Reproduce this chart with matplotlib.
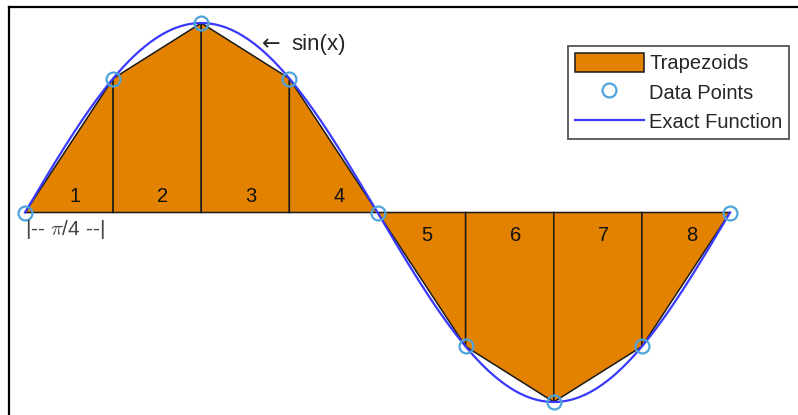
import numpy as np
import matplotlib
matplotlib.use("Agg")
import matplotlib.pyplot as plt
from matplotlib.patches import Polygon
from matplotlib.lines import Line2D

plt.rcParams['font.family'] = ['Liberation Sans', 'DejaVu Sans']

# Sample nodes at multiples of pi/4 and sin values there
x_nodes = [0, np.pi/4, np.pi/2, 3*np.pi/4, np.pi, 5*np.pi/4, 3*np.pi/2, 7*np.pi/4, 2*np.pi]
y_nodes = [0.0, 0.7071, 1.0, 0.7071, 0.0, -0.7071, -1.0, -0.7071, 0.0]
trap_labels = ['1', '2', '3', '4', '5', '6', '7', '8']

W, H, DPI = 798, 415, 100
fig = plt.figure(figsize=(W / DPI, H / DPI), dpi=DPI)
ax = fig.add_axes([0, 0, 1, 1])
ax.set_xlim(-0.2228, 6.889)
ax.set_ylim(-1.0686, 1.1214)
ax.axis('off')

fill_color = '#E38100'
text_color = '#262626'

# Trapezoids
patches = []
for i in range(len(x_nodes) - 1):
    xa, xb = x_nodes[i], x_nodes[i + 1]
    ya, yb = y_nodes[i], y_nodes[i + 1]
    poly = Polygon([(xa, 0), (xa, ya), (xb, yb), (xb, 0)], closed=True,
                   facecolor=fill_color, edgecolor='#1a1a1a', linewidth=1.1, zorder=2)
    ax.add_patch(poly)
    patches.append(poly)

# Exact function
xf = np.linspace(0, 2 * np.pi, 400)
line, = ax.plot(xf, np.sin(xf), color='#3a3aff', linewidth=1.6, zorder=3)

# Data points
pts, = ax.plot(x_nodes, y_nodes, linestyle='none', marker='o', markersize=10,
               markerfacecolor='none', markeredgecolor='#4da3da', markeredgewidth=1.6,
               zorder=4, clip_on=False)

# Trapezoid numbers
for i, lab in enumerate(trap_labels):
    xm = 0.5 * (x_nodes[i] + x_nodes[i + 1])
    ym = 0.085 if i < 4 else -0.12
    ax.text(xm, ym, lab, ha='left', va='center', fontsize=14.5, color='#111111', zorder=5)

# Curve annotation
ax.text(2.11, 0.888, '\u2190', ha='left', va='center', fontsize=16,
        family=['DejaVu Sans'], color=text_color, zorder=5)
ax.text(2.37, 0.888, 'sin(x)', ha='left', va='center', fontsize=16,
        color=text_color, zorder=5)

# Step-width marker
ax.text(0.0, -0.09, '|-- $\\pi$/4 --|', ha='left', va='center', fontsize=15,
        math_fontfamily='cm', color='#444444', zorder=5)

leg = ax.legend([patches[0], pts, line], ['Trapezoids', 'Data Points', 'Exact Function'],
                loc='upper right', bbox_to_anchor=(789 / W, 1 - 46 / H),
                bbox_transform=fig.transFigure, borderaxespad=0, fontsize=14.5,
                handlelength=3.45, handleheight=1.1, handletextpad=0.25,
                labelspacing=0.44, borderpad=0.33, fancybox=False, framealpha=1)
leg.get_frame().set_edgecolor('#555555')
leg.get_frame().set_linewidth(1.3)
for t in leg.get_texts():
    t.set_color(text_color)

# Outer frame (top and left edges)
fig.add_artist(Line2D([8.5 / W, 1], [1 - 6.7 / H, 1 - 6.7 / H], transform=fig.transFigure,
                      color='black', linewidth=1.6))
fig.add_artist(Line2D([9 / W, 9 / W], [0, 1 - 6.7 / H], transform=fig.transFigure,
                      color='black', linewidth=1.6))

fig.savefig('out.png', dpi=DPI)
